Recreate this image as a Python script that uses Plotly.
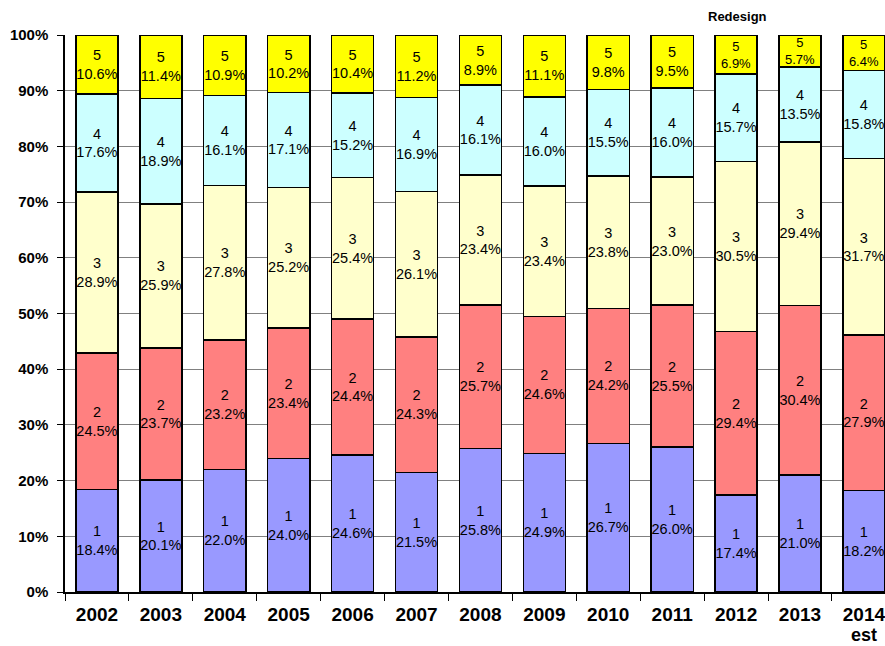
import plotly.graph_objects as go

years = ["2002", "2003", "2004", "2005", "2006", "2007", "2008", "2009", "2010", "2011", "2012", "2013", "2014 est"]
s1 = [18.4, 20.1, 22.0, 24.0, 24.6, 21.5, 25.8, 24.9, 26.7, 26.0, 17.4, 21.0, 18.2]
s2 = [24.5, 23.7, 23.2, 23.4, 24.4, 24.3, 25.7, 24.6, 24.2, 25.5, 29.4, 30.4, 27.9]
s3 = [28.9, 25.9, 27.8, 25.2, 25.4, 26.1, 23.4, 23.4, 23.8, 23.0, 30.5, 29.4, 31.7]
s4 = [17.6, 18.9, 16.1, 17.1, 15.2, 16.9, 16.1, 16.0, 15.5, 16.0, 15.7, 13.5, 15.8]
s5 = [10.6, 11.4, 10.9, 10.2, 10.4, 11.2, 8.9, 11.1, 9.8, 9.5, 6.9, 5.7, 6.4]

series = [("1", s1, "#9999FF"), ("2", s2, "#FF8080"), ("3", s3, "#FFFFCC"),
          ("4", s4, "#CCFFFF"), ("5", s5, "#FFFF00")]

fig = go.Figure()
for name, vals, color in series:
    fig.add_trace(go.Bar(
        x=years, y=vals, name=name,
        marker=dict(color=color, line=dict(color="black", width=1.5)),
        text=[f"{name}<br>{v:.1f}%" for v in vals],
        textposition="inside", insidetextanchor="middle",
        constraintext="none", textangle=0,
        textfont=dict(family="Arial, Liberation Sans", color="black",
                      size=[13 if v < 8 else 14.5 for v in vals]),
        hoverinfo="skip",
    ))

fig.update_layout(
    barmode="stack", bargap=0.34,
    width=885, height=646,
    margin=dict(l=65, r=0, t=35, b=54),
    plot_bgcolor="white", paper_bgcolor="white",
    showlegend=False,
    font=dict(family="Arial, Liberation Sans", color="black"),
)
fig.update_xaxes(
    type="category", range=[-0.5, 12.33], automargin=False,
    tickvals=years, ticktext=[y.split(" ")[0] for y in years],
    showline=True, linecolor="black", linewidth=1.5,
    ticks="outside", tickson="boundaries", ticklen=7, tickcolor="black",
    tickfont=dict(family="Arial, Liberation Sans", size=19, color="black", weight="bold"),
    ticklabelstandoff=4,
    showgrid=False,
)
fig.update_yaxes(
    range=[0, 100], dtick=10, ticksuffix="%", automargin=False,
    showline=True, linecolor="black", linewidth=1.5,
    ticks="outside", ticklen=6, tickcolor="black",
    showgrid=True, gridcolor="#808080", gridwidth=1,
    tickfont=dict(family="Arial, Liberation Sans", size=15, color="black", weight="bold"),
    ticklabelstandoff=6,
    zeroline=False,
)

# second line of the last category label
fig.add_annotation(x=years[-1], y=-0.0772, xref="x", yref="paper",
                   text="<b>" + years[-1].split(" ")[1] + "</b>", showarrow=False,
                   xanchor="center", yanchor="middle",
                   font=dict(size=18, color="black"))

fig.add_annotation(x=10, y=1, xref="x", yref="paper", yshift=9,
                   text="<b>Redesign</b>", showarrow=False,
                   xanchor="left", yanchor="bottom", xshift=-30,
                   font=dict(size=13, color="black"))

fig.write_html("out.html")
